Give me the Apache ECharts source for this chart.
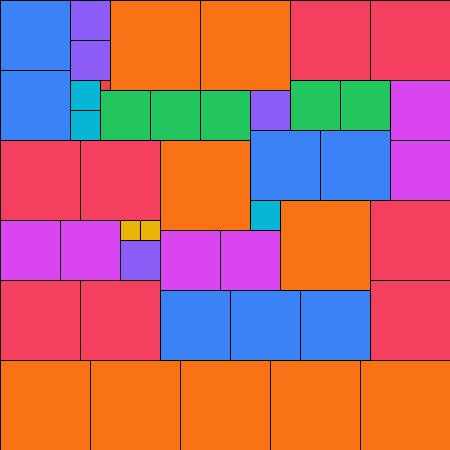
<!DOCTYPE html>
<html>
<head>
<meta charset="utf-8">
<script src="https://cdn.jsdelivr.net/npm/echarts@6/dist/echarts.min.js"></script>
<style>html,body{margin:0;padding:0;background:#fff}#c{width:450px;height:450px}</style>
</head>
<body>
<div id="c"></div>
<script>
// Square packing: left x, top y, side length
var xs    = [0, 0, 70, 70, 70, 100, 70, 110, 200, 290, 370, 100, 150, 200, 250, 290, 340, 390, 0, 80, 160, 250, 320, 390, 250, 280, 370, 0, 60, 120, 140, 120, 160, 220, 0, 80, 160, 230, 300, 370, 0, 90, 180, 270, 360];
var ys    = [0, 70, 0, 40, 80, 80, 110, 0, 0, 0, 0, 90, 90, 90, 90, 80, 80, 80, 140, 140, 140, 130, 130, 140, 200, 200, 200, 220, 220, 220, 220, 240, 230, 230, 280, 280, 290, 290, 290, 280, 360, 360, 360, 360, 360];
var sizes = [70, 70, 40, 40, 30, 10, 30, 90, 90, 80, 80, 50, 50, 50, 40, 50, 50, 60, 80, 80, 90, 70, 70, 60, 30, 90, 80, 60, 60, 20, 20, 40, 60, 60, 80, 80, 70, 70, 70, 80, 90, 90, 90, 90, 90];
var sizeColors = {90:'#f97316', 80:'#f43f5e', 70:'#3b82f6', 60:'#d946ef', 50:'#22c55e', 40:'#8b5cf6', 30:'#06b6d4', 20:'#eab308', 10:'#ef4444'};

var data = xs.map(function(x, i){ return [x, ys[i], sizes[i]]; });
var chart = echarts.init(document.getElementById('c'));
chart.setOption({
  animation: false,
  grid: {left: 0, right: 0, top: 0, bottom: 0},
  xAxis: {type: 'value', min: 0, max: 450, show: false},
  yAxis: {type: 'value', min: 0, max: 450, inverse: true, show: false},
  series: [{
    type: 'custom',
    data: data,
    renderItem: function(params, api){
      var x = api.value(0), y = api.value(1), s = api.value(2);
      var p0 = api.coord([x, y]);
      var p1 = api.coord([x + s, y + s]);
      return {
        type: 'rect',
        shape: {x: p0[0] + 0.5, y: p0[1] + 0.5, width: p1[0] - p0[0], height: p1[1] - p0[1]},
        style: {fill: sizeColors[s], stroke: '#000', lineWidth: 1}
      };
    }
  }]
});
</script>
</body>
</html>
